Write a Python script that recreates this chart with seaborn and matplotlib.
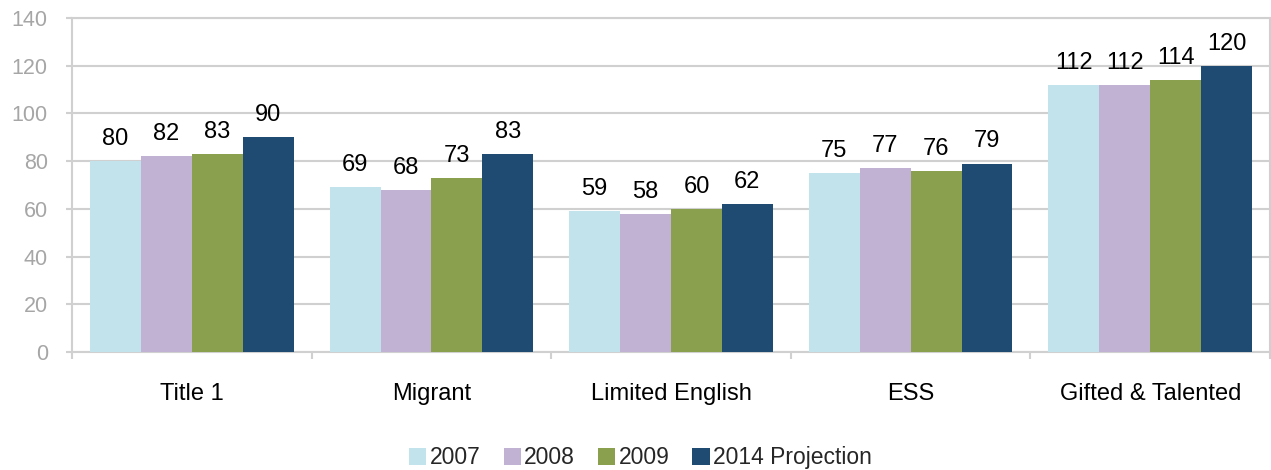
import pandas as pd
import numpy as np
import seaborn as sns
import matplotlib.pyplot as plt

# chart values
programs = ["Title 1", "Migrant", "Limited English", "ESS", "Gifted & Talented"]
years = ["2007", "2008", "2009", "2014 Projection"]
v2007 = [80, 69, 59, 75, 112]
v2008 = [82, 68, 58, 77, 112]
v2009 = [83, 73, 60, 76, 114]
v2014 = [90, 83, 62, 79, 120]
colors = ["#c3e3ec", "#c1b2d4", "#8aa04e", "#1f4a72"]

df = pd.DataFrame({"Program": programs * 4,
                   "Year": [y for y in years for _ in programs],
                   "Count": v2007 + v2008 + v2009 + v2014})

sns.set_style("white")
plt.rcParams['font.family'] = ['Liberation Sans', 'DejaVu Sans']

fig = plt.figure(figsize=(12.71, 4.70), dpi=100)
ax = fig.add_axes([0.0567, 0.251, 0.9425, 0.7107])

sns.barplot(data=df, x="Program", y="Count", hue="Year", palette=colors,
            width=0.85, saturation=1, errorbar=None, linewidth=0, ax=ax, zorder=3)

for c in ax.containers:
    ax.bar_label(c, fmt="%d", padding=8, fontsize=17, color="black")

grid_col = "#d0d0d0"
ax.set_ylim(0, 140)
ax.set_xlim(-0.5, 4.5)
ax.set_yticks(np.arange(0, 141, 20))
ax.yaxis.grid(True, color=grid_col, linewidth=1.5, zorder=0)
ax.set_axisbelow(True)
ax.tick_params(axis="y", color=grid_col, length=4.5, width=1.5, left=True, pad=13)
ax.tick_params(axis="x", which="major", length=0, pad=22)
ax.set_xticks(np.arange(-0.5, 5, 1), minor=True)
ax.tick_params(axis="x", which="minor", length=5, width=1.5, color=grid_col, bottom=True)
plt.setp(ax.get_yticklabels(), fontsize=15.5, color="#a6a6a6")
plt.setp(ax.get_xticklabels(), fontsize=17, color="black")
for s in ax.spines.values():
    s.set_color(grid_col)
    s.set_linewidth(1.5)
ax.set_xlabel("")
ax.set_ylabel("")

ax.legend(loc="center", bbox_to_anchor=(0.504, 0.026), bbox_transform=fig.transFigure,
          ncol=4, frameon=False, fontsize=16.5, handlelength=0.75, handleheight=0.75,
          handletextpad=0.15, columnspacing=1.0)

fig.savefig("out.png", dpi=100)
